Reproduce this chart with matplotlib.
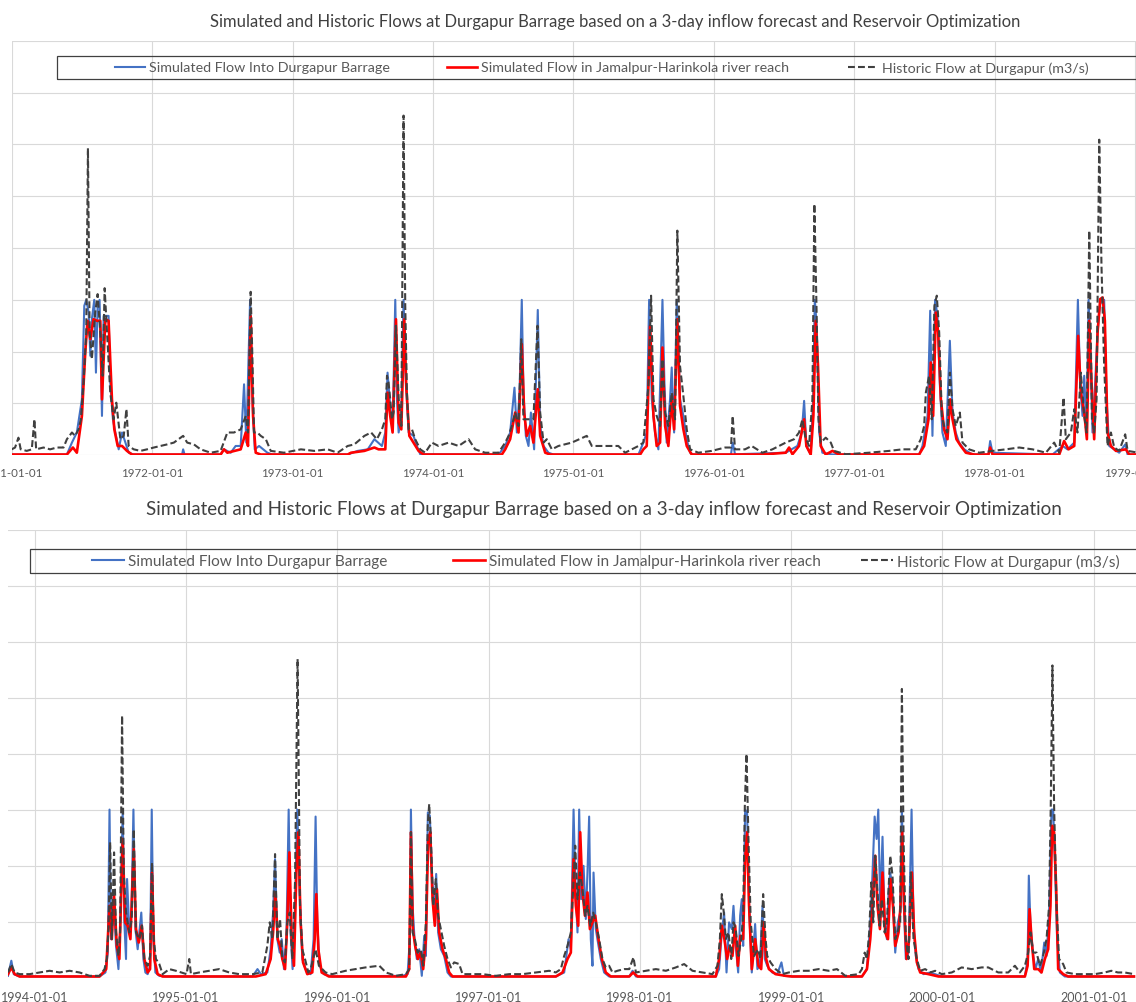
import matplotlib.pyplot as plt
from matplotlib.patches import Rectangle

plt.rcParams['font.family'] = ['Lato', 'DejaVu Sans']

title = ("Simulated and Historic Flows at Durgapur Barrage based on a 3-day "
         "inflow forecast and Reservoir Optimization")
lab_in = "Simulated Flow Into Durgapur Barrage"
lab_reach = "Simulated Flow in Jamalpur-Harinkola river reach"
lab_hist = "Historic Flow at Durgapur (m3/s)"

# ---- chart A: 1971-1979 (decimal year, flow m3/s) ----
yr_hist_a = [1971.000, 1971.024, 1971.048, 1971.064, 1971.107, 1971.143, 1971.162, 1971.174, 1971.226, 1971.274,
             1971.321, 1971.369, 1971.393, 1971.429, 1971.452, 1971.476, 1971.493, 1971.512, 1971.531, 1971.543,
             1971.555, 1971.571, 1971.595, 1971.612, 1971.631, 1971.648, 1971.662, 1971.679, 1971.702, 1971.726,
             1971.745, 1971.774, 1971.798, 1971.817, 1971.833, 1971.869, 1971.917, 1971.964, 1972.012, 1972.060,
             1972.107, 1972.155, 1972.221, 1972.250, 1972.298, 1972.345, 1972.417, 1972.488, 1972.536, 1972.583,
             1972.631, 1972.667, 1972.683, 1972.702, 1972.714, 1972.726, 1972.750, 1972.774, 1972.810, 1972.845,
             1972.940, 1973.060, 1973.155, 1973.250, 1973.321, 1973.393, 1973.440, 1973.512, 1973.560, 1973.601,
             1973.637, 1973.661, 1973.673, 1973.684, 1973.696, 1973.708, 1973.720, 1973.737, 1973.756, 1973.775,
             1973.791, 1973.803, 1973.815, 1973.827, 1973.851, 1973.874, 1973.910, 1973.945, 1973.993, 1974.040,
             1974.112, 1974.183, 1974.254, 1974.301, 1974.372, 1974.467, 1974.515, 1974.539, 1974.562, 1974.586,
             1974.610, 1974.629, 1974.645, 1974.669, 1974.693, 1974.716, 1974.745, 1974.764, 1974.788, 1974.811,
             1974.847, 1974.894, 1974.989, 1975.096, 1975.132, 1975.227, 1975.321, 1975.369, 1975.464, 1975.499,
             1975.535, 1975.554, 1975.571, 1975.594, 1975.618, 1975.635, 1975.654, 1975.677, 1975.701, 1975.725,
             1975.741, 1975.760, 1975.784, 1975.808, 1975.832, 1975.891, 1975.986, 1976.081, 1976.123, 1976.135,
             1976.152, 1976.223, 1976.270, 1976.347, 1976.418, 1976.513, 1976.572, 1976.608, 1976.632, 1976.651,
             1976.679, 1976.703, 1976.717, 1976.732, 1976.746, 1976.762, 1976.798, 1976.834, 1976.857, 1976.941,
             1977.107, 1977.249, 1977.344, 1977.439, 1977.475, 1977.499, 1977.511, 1977.534, 1977.553, 1977.572,
             1977.589, 1977.606, 1977.625, 1977.641, 1977.665, 1977.682, 1977.701, 1977.724, 1977.753, 1977.772,
             1977.819, 1977.891, 1977.986, 1978.081, 1978.176, 1978.271, 1978.366, 1978.425, 1978.461, 1978.492,
             1978.508, 1978.544, 1978.568, 1978.591, 1978.615, 1978.639, 1978.656, 1978.675, 1978.694, 1978.710,
             1978.727, 1978.746, 1978.762, 1978.781, 1978.805, 1978.829, 1978.853, 1978.888, 1978.931, 1978.948,
             1979.026]
q_hist_a = [230, 300, 680, 230, 170, 230, 1390, 230, 300, 230,
            300, 300, 620, 880, 750, 1000, 1390, 2810, 4740, 11850,
            4740, 3710, 5510, 6220, 4740, 3070, 6450, 4740, 2420, 1390,
            2030, 620, 750, 1780, 360, 230, 170, 230, 300, 360,
            420, 490, 750, 490, 420, 230, 100, 170, 880, 880,
            1000, 1520, 880, 6310, 3840, 880, 880, 750, 620, 170,
            100, 230, 170, 230, 100, 360, 420, 750, 880, 620,
            1000, 1390, 3070, 2810, 2160, 1390, 1650, 5000, 2160, 1130,
            13110, 5770, 2420, 1000, 1000, 620, 230, 100, 490, 360,
            490, 360, 620, 230, 100, 100, 490, 750, 1130, 1650,
            1130, 4480, 1390, 1390, 1390, 1390, 5000, 1650, 490, 620,
            230, 360, 490, 750, 360, 360, 360, 100, 360, 490,
            2680, 6160, 2160, 1520, 1130, 3710, 1650, 1130, 2420, 1390,
            8670, 3450, 2290, 1000, 230, 100, 170, 300, 300, 1520,
            230, 230, 360, 100, 230, 490, 620, 880, 1390, 750,
            360, 2160, 9700, 5770, 1390, 490, 680, 490, 170, 40,
            100, 170, 230, 230, 620, 1130, 2420, 3070, 1390, 5770,
            6160, 4740, 1520, 1130, 880, 3190, 1780, 1130, 1650, 490,
            230, 100, 170, 230, 300, 230, 100, 490, 100, 2230,
            620, 880, 1780, 880, 3190, 1520, 880, 8670, 1390, 880,
            2160, 12180, 7320, 3450, 360, 880, 300, 170, 810, 170,
            100]

yr_in_a = [1971.000, 1971.393, 1971.429, 1971.464, 1971.500, 1971.517, 1971.531, 1971.548, 1971.560, 1971.571,
           1971.588, 1971.600, 1971.612, 1971.626, 1971.643, 1971.655, 1971.674, 1971.690, 1971.702, 1971.721,
           1971.738, 1971.762, 1971.786, 1971.810, 1971.833, 1971.869, 1972.214, 1972.221, 1972.231, 1972.488,
           1972.512, 1972.560, 1972.595, 1972.631, 1972.655, 1972.671, 1972.698, 1972.714, 1972.731, 1972.762,
           1972.821, 1972.857, 1973.393, 1973.464, 1973.536, 1973.583, 1973.637, 1973.661, 1973.677, 1973.696,
           1973.713, 1973.732, 1973.744, 1973.756, 1973.775, 1973.791, 1973.808, 1973.827, 1973.862, 1973.886,
           1973.910, 1974.467, 1974.515, 1974.550, 1974.581, 1974.598, 1974.617, 1974.633, 1974.645, 1974.662,
           1974.681, 1974.698, 1974.721, 1974.747, 1974.764, 1974.788, 1974.823, 1974.859, 1975.464, 1975.499,
           1975.523, 1975.540, 1975.559, 1975.582, 1975.606, 1975.635, 1975.649, 1975.665, 1975.689, 1975.701,
           1975.718, 1975.737, 1975.760, 1975.784, 1975.808, 1975.832, 1975.855, 1976.123, 1976.135, 1976.152,
           1976.513, 1976.596, 1976.627, 1976.644, 1976.660, 1976.691, 1976.708, 1976.720, 1976.734, 1976.751,
           1976.774, 1976.846, 1977.463, 1977.487, 1977.523, 1977.542, 1977.558, 1977.577, 1977.594, 1977.610,
           1977.629, 1977.653, 1977.682, 1977.701, 1977.724, 1977.748, 1977.784, 1977.843, 1977.957, 1977.969,
           1977.986, 1978.413, 1978.485, 1978.520, 1978.568, 1978.594, 1978.610, 1978.627, 1978.639, 1978.656,
           1978.670, 1978.686, 1978.698, 1978.717, 1978.734, 1978.746, 1978.758, 1978.781, 1978.798, 1978.817,
           1978.888, 1978.931, 1978.948, 1979.026]
q_in_a = [30, 30, 490, 880, 2160, 5770, 6000, 5510, 3840, 5250,
          6000, 3190, 5770, 6000, 1520, 5380, 5380, 5380, 2810, 1390,
          880, 230, 880, 490, 100, 30, 30, 230, 30, 30,
          230, 100, 360, 360, 2740, 490, 6000, 2160, 230, 360,
          100, 30, 30, 170, 230, 620, 360, 880, 3190, 1910,
          1000, 6000, 2160, 880, 1520, 6000, 2810, 880, 750, 360,
          40, 30, 360, 880, 2610, 880, 2420, 6000, 2420, 750,
          360, 1650, 230, 5610, 1130, 360, 100, 30, 30, 490,
          880, 6000, 2160, 880, 230, 6000, 2810, 490, 2160, 3390,
          880, 6000, 2160, 1520, 620, 100, 30, 30, 490, 40,
          100, 360, 880, 2100, 360, 40, 2160, 6000, 5000, 880,
          100, 30, 30, 360, 1520, 5580, 750, 6000, 5380, 2810,
          880, 360, 4420, 1650, 880, 490, 230, 30, 30, 550,
          100, 30, 360, 230, 490, 6000, 2810, 1520, 3070, 880,
          6000, 3450, 880, 2810, 4740, 5510, 6000, 6000, 2160, 360,
          100, 420, 30, 30]

yr_reach_a = [1971.000, 1971.393, 1971.436, 1971.464, 1971.500, 1971.524, 1971.540, 1971.560, 1971.583, 1971.607,
              1971.631, 1971.643, 1971.667, 1971.690, 1971.714, 1971.731, 1971.755, 1971.786, 1971.821, 1971.857,
              1972.488, 1972.512, 1972.536, 1972.631, 1972.667, 1972.683, 1972.702, 1972.719, 1972.738, 1972.774,
              1973.393, 1973.417, 1973.512, 1973.583, 1973.613, 1973.661, 1973.677, 1973.696, 1973.713, 1973.737,
              1973.756, 1973.775, 1973.796, 1973.810, 1973.832, 1973.862, 1973.898, 1973.934, 1974.491, 1974.515,
              1974.550, 1974.586, 1974.610, 1974.633, 1974.650, 1974.669, 1974.693, 1974.716, 1974.747, 1974.764,
              1974.800, 1974.835, 1975.476, 1975.499, 1975.523, 1975.547, 1975.571, 1975.594, 1975.618, 1975.635,
              1975.654, 1975.677, 1975.701, 1975.718, 1975.741, 1975.760, 1975.784, 1975.808, 1975.843, 1976.347,
              1976.513, 1976.537, 1976.561, 1976.608, 1976.644, 1976.660, 1976.691, 1976.710, 1976.727, 1976.743,
              1976.762, 1976.798, 1976.846, 1976.893, 1977.463, 1977.499, 1977.530, 1977.546, 1977.563, 1977.582,
              1977.599, 1977.618, 1977.641, 1977.665, 1977.684, 1977.701, 1977.729, 1977.760, 1977.796, 1977.855,
              1977.957, 1977.969, 1977.986, 1978.461, 1978.496, 1978.527, 1978.568, 1978.596, 1978.615, 1978.639,
              1978.658, 1978.675, 1978.691, 1978.710, 1978.734, 1978.753, 1978.770, 1978.786, 1978.805, 1978.829,
              1978.865, 1978.936, 1978.960, 1979.026]
q_reach_a = [30, 30, 300, 100, 1520, 3970, 5190, 4480, 5250, 5190,
             5190, 2160, 5250, 5190, 2160, 1000, 360, 360, 170, 30,
             30, 230, 100, 230, 880, 360, 5380, 1520, 100, 30,
             30, 100, 170, 300, 230, 230, 2420, 1520, 880, 5250,
             1260, 1000, 5250, 2680, 750, 490, 170, 30, 30, 230,
             620, 1650, 880, 4290, 1650, 750, 1130, 490, 2550, 750,
             100, 30, 30, 230, 360, 5000, 1520, 360, 490, 4160,
             1130, 360, 2160, 1000, 5250, 1910, 1000, 360, 30, 30,
             100, 300, 40, 360, 1390, 360, 30, 1520, 5190, 3450,
             360, 30, 170, 30, 30, 360, 1390, 3580, 1520, 5510,
             4740, 2160, 1000, 620, 2160, 1390, 620, 360, 100, 30,
             30, 300, 30, 30, 550, 230, 360, 4610, 2420, 1650,
             620, 5190, 2810, 620, 4740, 6030, 6090, 5190, 880, 360,
             170, 230, 30, 30]

# ---- chart B: late 1993 - 2001 ----
yr_hist_b = [1993.824, 1993.846, 1993.868, 1993.901, 1993.967, 1994.033, 1994.099, 1994.165, 1994.231, 1994.297,
             1994.363, 1994.429, 1994.462, 1994.477, 1994.488, 1994.499, 1994.510, 1994.525, 1994.538, 1994.554,
             1994.565, 1994.578, 1994.589, 1994.604, 1994.626, 1994.642, 1994.655, 1994.670, 1994.692, 1994.710,
             1994.725, 1994.747, 1994.763, 1994.776, 1994.787, 1994.802, 1994.824, 1994.846, 1994.890, 1994.934,
             1995.004, 1995.022, 1995.033, 1995.088, 1995.154, 1995.220, 1995.286, 1995.352, 1995.440, 1995.505,
             1995.538, 1995.554, 1995.571, 1995.589, 1995.604, 1995.622, 1995.637, 1995.655, 1995.670, 1995.686,
             1995.703, 1995.721, 1995.738, 1995.754, 1995.769, 1995.787, 1995.809, 1995.824, 1995.857, 1995.879,
             1995.923, 1995.967, 1996.055, 1996.121, 1996.187, 1996.278, 1996.322, 1996.388, 1996.454, 1996.476,
             1996.487, 1996.498, 1996.513, 1996.531, 1996.553, 1996.568, 1996.586, 1996.599, 1996.608, 1996.619,
             1996.634, 1996.652, 1996.667, 1996.685, 1996.707, 1996.729, 1996.751, 1996.773, 1996.806, 1996.828,
             1996.872, 1996.960, 1997.048, 1997.137, 1997.225, 1997.313, 1997.401, 1997.445, 1997.478, 1997.500,
             1997.522, 1997.544, 1997.559, 1997.573, 1997.588, 1997.604, 1997.621, 1997.639, 1997.654, 1997.672,
             1997.692, 1997.709, 1997.731, 1997.753, 1997.775, 1997.797, 1997.819, 1997.852, 1997.896, 1997.930,
             1997.958, 1997.974, 1998.040, 1998.106, 1998.172, 1998.238, 1998.293, 1998.348, 1998.414, 1998.480,
             1998.513, 1998.529, 1998.542, 1998.555, 1998.568, 1998.586, 1998.604, 1998.619, 1998.634, 1998.652,
             1998.670, 1998.683, 1998.694, 1998.705, 1998.718, 1998.733, 1998.755, 1998.780, 1998.798, 1998.815,
             1998.831, 1998.842, 1998.864, 1998.897, 1998.941, 1998.985, 1999.051, 1999.116, 1999.182, 1999.248,
             1999.303, 1999.358, 1999.446, 1999.468, 1999.486, 1999.501, 1999.516, 1999.530, 1999.543, 1999.556,
             1999.571, 1999.585, 1999.600, 1999.618, 1999.633, 1999.644, 1999.655, 1999.670, 1999.688, 1999.703,
             1999.721, 1999.732, 1999.743, 1999.758, 1999.776, 1999.791, 1999.809, 1999.831, 1999.853, 1999.886,
             1999.919, 1999.952, 1999.996, 2000.062, 2000.127, 2000.193, 2000.259, 2000.303, 2000.369, 2000.435,
             2000.479, 2000.512, 2000.545, 2000.567, 2000.582, 2000.600, 2000.622, 2000.644, 2000.666, 2000.688,
             2000.705, 2000.716, 2000.727, 2000.738, 2000.754, 2000.771, 2000.798, 2000.820, 2000.875, 2000.941,
             2001.007, 2001.073, 2001.116, 2001.160, 2001.204, 2001.266]
q_hist_b = [180, 480, 180, 120, 120, 180, 240, 180, 240, 180,
            60, 60, 300, 660, 1730, 4830, 1370, 4470, 1610, 770,
            1610, 9360, 3750, 2320, 1610, 2090, 5300, 1610, 1370, 1850,
            660, 420, 770, 4110, 1370, 660, 480, 120, 300, 240,
            120, 660, 120, 180, 240, 300, 180, 120, 120, 180,
            1130, 1970, 1370, 4410, 1370, 2090, 660, 540, 1970, 2320,
            660, 3400, 11380, 2560, 1010, 660, 180, 300, 1010, 420,
            180, 120, 240, 300, 360, 420, 180, 60, 120, 300,
            5190, 1610, 1370, 890, 1010, 420, 1970, 5540, 6200, 4950,
            2560, 3520, 2210, 1730, 1130, 660, 360, 540, 480, 120,
            120, 120, 60, 120, 120, 180, 240, 180, 300, 770,
            1130, 1610, 3160, 4710, 2800, 3750, 3160, 2210, 2560, 1850,
            2320, 1970, 1370, 660, 360, 420, 180, 240, 300, 300,
            720, 180, 240, 300, 240, 360, 480, 240, 180, 120,
            420, 1370, 2980, 2320, 1370, 1610, 660, 1970, 1730, 770,
            1370, 2210, 6140, 7990, 4950, 1970, 770, 1010, 660, 2980,
            1370, 770, 540, 300, 120, 180, 240, 240, 300, 240,
            300, 60, 120, 300, 890, 660, 1610, 3400, 1970, 4350,
            3040, 1850, 2800, 1610, 1970, 3160, 4350, 3640, 1370, 1610,
            1970, 10310, 4950, 1370, 660, 3750, 1370, 660, 240, 300,
            180, 240, 120, 180, 360, 300, 360, 360, 180, 180,
            420, 180, 420, 890, 1610, 890, 890, 420, 770, 1370,
            2560, 6140, 11150, 6140, 2560, 660, 480, 180, 120, 120,
            120, 180, 240, 180, 180, 120]

yr_in_b = [1993.824, 1993.846, 1993.862, 1993.901, 1994.429, 1994.468, 1994.484, 1994.495, 1994.505, 1994.521,
           1994.538, 1994.554, 1994.567, 1994.582, 1994.593, 1994.604, 1994.611, 1994.626, 1994.640, 1994.653,
           1994.666, 1994.681, 1994.692, 1994.705, 1994.719, 1994.732, 1994.747, 1994.763, 1994.774, 1994.785,
           1994.798, 1994.824, 1994.868, 1995.440, 1995.473, 1995.495, 1995.538, 1995.560, 1995.576, 1995.589,
           1995.604, 1995.620, 1995.633, 1995.648, 1995.664, 1995.679, 1995.692, 1995.705, 1995.721, 1995.736,
           1995.752, 1995.769, 1995.791, 1995.824, 1995.844, 1995.857, 1995.868, 1995.884, 1995.912, 1995.967,
           1996.432, 1996.465, 1996.480, 1996.487, 1996.498, 1996.511, 1996.526, 1996.542, 1996.559, 1996.575,
           1996.586, 1996.599, 1996.612, 1996.626, 1996.641, 1996.654, 1996.667, 1996.685, 1996.707, 1996.729,
           1996.751, 1997.445, 1997.500, 1997.529, 1997.544, 1997.562, 1997.575, 1997.588, 1997.599, 1997.612,
           1997.628, 1997.643, 1997.654, 1997.665, 1997.676, 1997.687, 1997.694, 1997.709, 1997.727, 1997.742,
           1997.764, 1997.797, 1997.930, 1997.952, 1997.974, 1998.502, 1998.524, 1998.542, 1998.557, 1998.573,
           1998.590, 1998.608, 1998.619, 1998.634, 1998.650, 1998.663, 1998.674, 1998.683, 1998.696, 1998.709,
           1998.722, 1998.740, 1998.762, 1998.777, 1998.793, 1998.811, 1998.826, 1998.842, 1998.875, 1998.908,
           1998.936, 1998.952, 1999.007, 1999.468, 1999.501, 1999.519, 1999.534, 1999.552, 1999.565, 1999.576,
           1999.589, 1999.604, 1999.618, 1999.633, 1999.644, 1999.655, 1999.670, 1999.688, 1999.705, 1999.721,
           1999.732, 1999.745, 1999.758, 1999.776, 1999.796, 1999.809, 1999.824, 1999.842, 1999.875, 1999.919,
           1999.952, 1999.996, 2000.545, 2000.563, 2000.571, 2000.582, 2000.600, 2000.615, 2000.633, 2000.651,
           2000.673, 2000.688, 2000.705, 2000.721, 2000.732, 2000.743, 2000.758, 2000.776, 2000.809, 2001.266]
q_in_b = [60, 600, 120, 36, 36, 180, 890, 6000, 1370, 2920,
          1130, 300, 1970, 6000, 1970, 660, 3520, 1610, 2320, 6000,
          1730, 1010, 1610, 2320, 660, 180, 120, 420, 6000, 1370,
          180, 60, 36, 36, 300, 120, 180, 1010, 2320, 4230,
          1370, 890, 1370, 300, 1370, 6000, 1610, 300, 2560, 6000,
          3040, 660, 300, 120, 1370, 5750, 1970, 420, 120, 36,
          60, 120, 1370, 6000, 2560, 1370, 660, 1010, 60, 1490,
          770, 5900, 5780, 3750, 2210, 3700, 1610, 1010, 770, 180,
          36, 36, 180, 1370, 1010, 6000, 3160, 1610, 6000, 2800,
          3990, 2090, 3750, 5750, 1370, 420, 3750, 1730, 1130, 660,
          180, 36, 36, 240, 36, 36, 300, 1610, 2320, 180,
          1970, 1730, 2560, 1130, 180, 2210, 2800, 1130, 6000, 5900,
          2560, 180, 1910, 300, 420, 2560, 660, 420, 180, 120,
          540, 60, 36, 36, 300, 1610, 3160, 5750, 4950, 6000,
          2560, 5030, 1970, 1370, 3040, 3750, 3160, 890, 1970, 2320,
          6000, 2560, 660, 890, 6000, 1970, 770, 300, 120, 180,
          120, 36, 36, 660, 3640, 1850, 770, 300, 660, 180,
          1250, 770, 2320, 6000, 6000, 4230, 1370, 180, 36, 36]

yr_reach_b = [1993.824, 1993.846, 1993.868, 1993.901, 1994.429, 1994.473, 1994.495, 1994.510, 1994.525, 1994.543,
              1994.560, 1994.582, 1994.598, 1994.615, 1994.633, 1994.655, 1994.670, 1994.688, 1994.708, 1994.725,
              1994.747, 1994.763, 1994.776, 1994.791, 1994.813, 1994.846, 1995.462, 1995.527, 1995.560, 1995.576,
              1995.591, 1995.607, 1995.622, 1995.637, 1995.655, 1995.670, 1995.684, 1995.699, 1995.714, 1995.730,
              1995.743, 1995.758, 1995.774, 1995.802, 1995.835, 1995.851, 1995.862, 1995.875, 1995.897, 1995.945,
              1996.454, 1996.476, 1996.487, 1996.500, 1996.515, 1996.533, 1996.551, 1996.568, 1996.586, 1996.601,
              1996.615, 1996.630, 1996.645, 1996.659, 1996.674, 1996.696, 1996.718, 1996.740, 1996.762, 1997.445,
              1997.489, 1997.522, 1997.544, 1997.562, 1997.577, 1997.593, 1997.606, 1997.621, 1997.637, 1997.654,
              1997.670, 1997.687, 1997.705, 1997.727, 1997.749, 1997.775, 1997.808, 1997.930, 1997.956, 1997.985,
              1998.502, 1998.524, 1998.542, 1998.559, 1998.577, 1998.595, 1998.612, 1998.630, 1998.648, 1998.665,
              1998.683, 1998.696, 1998.709, 1998.722, 1998.740, 1998.762, 1998.784, 1998.802, 1998.818, 1998.835,
              1998.853, 1998.897, 1998.963, 1999.007, 1999.468, 1999.501, 1999.523, 1999.538, 1999.556, 1999.571,
              1999.587, 1999.604, 1999.622, 1999.640, 1999.657, 1999.673, 1999.688, 1999.710, 1999.723, 1999.734,
              1999.747, 1999.763, 1999.780, 1999.798, 1999.813, 1999.831, 1999.853, 1999.908, 1999.974, 2000.545,
              2000.563, 2000.576, 2000.589, 2000.607, 2000.633, 2000.655, 2000.677, 2000.699, 2000.714, 2000.725,
              2000.738, 2000.752, 2000.765, 2000.798, 2000.831, 2001.266]
q_reach_b = [120, 360, 120, 36, 36, 300, 2560, 1370, 2920, 1130,
             660, 4950, 1970, 1850, 1370, 4590, 1730, 1250, 1850, 660,
             180, 300, 3750, 660, 120, 36, 36, 120, 660, 1610,
             3040, 1370, 1130, 660, 300, 1970, 4470, 1370, 420, 3750,
             5190, 1970, 540, 120, 180, 1370, 2980, 1010, 180, 36,
             36, 300, 5190, 1730, 1130, 660, 890, 300, 1370, 4950,
             5190, 2800, 1850, 3160, 1610, 1010, 660, 180, 36, 36,
             180, 660, 890, 4230, 2560, 1850, 5190, 3040, 2210, 3040,
             1730, 1970, 2210, 1370, 660, 180, 36, 36, 180, 36,
             36, 660, 1850, 1370, 660, 1130, 770, 1850, 420, 1490,
             1370, 4230, 5190, 2560, 300, 1370, 420, 300, 1970, 660,
             300, 120, 60, 36, 36, 300, 1370, 2560, 4350, 2560,
             1730, 3750, 1610, 1370, 3520, 2560, 1130, 1610, 2560, 5190,
             2560, 660, 1370, 3750, 1610, 540, 180, 120, 36, 36,
             420, 2440, 1370, 300, 300, 180, 660, 1010, 2560, 5420,
             5190, 3160, 300, 120, 36, 36]

years_a = list(range(1971, 1980))
years_b = list(range(1994, 2002))

BLUE, RED, HIST = '#4472C4', '#FF0000', '#404040'
GRID = '#d9d9d9'
TXT = '#595959'

W, H = 1136, 1003
fig = plt.figure(figsize=(W / 100, H / 100), dpi=100)


def add_px_axes(x0, y_top, x1, y_bot):
    return fig.add_axes([x0 / W, 1 - y_bot / H, (x1 - x0) / W, (y_bot - y_top) / H])


def draw(ax, xs, ys, xlim, years, tick_fs, tick_pad):
    l1, = ax.plot(xs[0], ys[0], color=BLUE, lw=1.5, label=lab_in)
    l2, = ax.plot(xs[1], ys[1], color=RED, lw=1.9, label=lab_reach)
    l3, = ax.plot(xs[2], ys[2], color=HIST, lw=1.5, ls=(0, (3.3, 1.5)), label=lab_hist)
    ax.set_xticks(years)
    ax.set_xticklabels([f"{y}-01-01" for y in years])
    ax.set_yticks(range(0, 16001, 2000))
    ax.set_xlim(*xlim)
    ax.set_ylim(0, 16000)
    ax.tick_params(axis='x', length=0, pad=tick_pad, labelsize=tick_fs, labelcolor=TXT)
    ax.tick_params(axis='y', length=0, labelleft=False)
    ax.grid(True, color=GRID, lw=0.8)
    ax.set_axisbelow(True)
    for s in ax.spines.values():
        s.set_visible(False)
    return [l1, l2, l3]


def legend_row(handles, starts, y, fs, hlen_px):
    f = fs * 100 / 72
    for h, x in zip(handles, starts):
        fig.legend(handles=[h], loc='center left', bbox_to_anchor=(x / W, 1 - y / H),
                   frameon=False, fontsize=fs, labelcolor=TXT, borderpad=0, borderaxespad=0,
                   handlelength=hlen_px / f, handletextpad=4 / f)


# top chart
ax1 = add_px_axes(11.7, 41.7, 11.7 + 8.6 * 140.4, 456.3)
h1 = draw(ax1, [yr_in_a, yr_reach_a, yr_hist_a], [q_in_a, q_reach_a, q_hist_a],
          (1971.0, 1979.6), years_a, 8.3, 8.5)
fig.text(615 / W, 1 - 22 / H, title, ha='center', va='center', fontsize=12.0, color='#404040')
legend_row(h1, [115, 447, 848], 68.5, 10.25, 30)
fig.patches.append(Rectangle((57 / W, 1 - 80 / H), (1143 - 57) / W, 23 / H, transform=fig.transFigure,
                             fill=False, edgecolor='#404040', lw=0.9))

# bottom chart
ax2 = add_px_axes(8, 530.7, 8 + 7.976 * 151.3, 978.5)
h2 = draw(ax2, [yr_in_b, yr_reach_b, yr_hist_b], [q_in_b, q_reach_b, q_hist_b],
          (1993.824, 2001.8), years_b, 9.0, 9.5)
fig.text(603.5 / W, 1 - 510 / H, title, ha='center', va='center', fontsize=13.5, color='#404040')
legend_row(h2, [92, 453, 861], 562, 11.05, 32)
fig.patches.append(Rectangle((30 / W, 1 - 574 / H), (1200 - 30) / W, 24 / H, transform=fig.transFigure,
                             fill=False, edgecolor='#404040', lw=0.9))

fig.savefig('out.png', dpi=100)
